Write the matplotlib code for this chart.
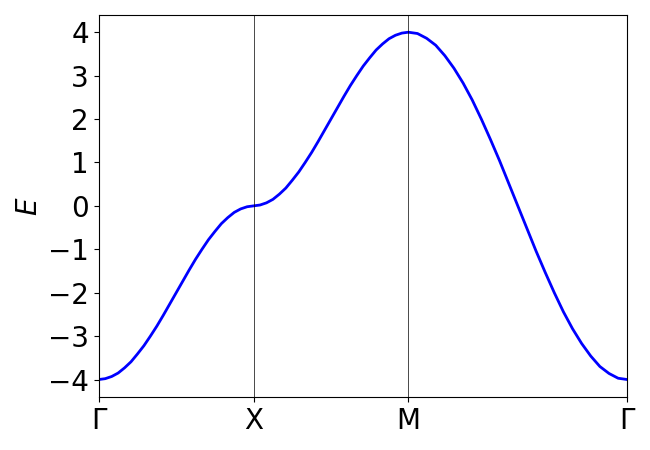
import numpy as np
import matplotlib
matplotlib.use("Agg")
import matplotlib.pyplot as plt

# High-symmetry path labels and relative segment lengths (Γ-X, X-M, M-Γ)
labels = ["Γ", "X", "M", "Γ"]
seg_lengths = [1.0, 1.0, 1.4142]
yticks = [-4, -3, -2, -1, 0, 1, 2, 3, 4]

# Energy values read along each segment (equally spaced samples)
E_GX = [-4.00, -3.98, -3.93, -3.85, -3.73, -3.59, -3.41, -3.22, -3.00, -2.77, -2.52, -2.26,
        -2.00, -1.74, -1.48, -1.23, -1.00, -0.78, -0.59, -0.41, -0.27, -0.15, -0.07, -0.02, 0.00]
E_XM = [0.00, 0.02, 0.07, 0.15, 0.27, 0.41, 0.59, 0.78, 1.00, 1.23, 1.48, 1.74,
        2.00, 2.26, 2.52, 2.77, 3.00, 3.22, 3.41, 3.59, 3.73, 3.85, 3.93, 3.98, 4.00]
E_MG = [4.00, 3.97, 3.86, 3.70, 3.46, 3.17, 2.83, 2.44, 2.00, 1.53, 1.04, 0.52,
        0.00, -0.52, -1.04, -1.53, -2.00, -2.44, -2.83, -3.17, -3.46, -3.70, -3.86, -3.97, -4.00]
segments = [E_GX, E_XM, E_MG]

plt.rcParams["font.family"] = ["DejaVu Sans"]
fig = plt.figure(figsize=(6.5, 4.5), dpi=100)
ax = fig.add_axes([0.152, 0.118, 0.813, 0.849])

ticks = np.concatenate([[0.0], np.cumsum(seg_lengths)])
xs_all, es_all = [], []
for i, E in enumerate(segments):
    xs = np.linspace(ticks[i], ticks[i + 1], len(E))
    if i > 0:
        xs = xs[1:]
        E = E[1:]
    xs_all.extend(xs)
    es_all.extend(E)

ax.plot(xs_all, es_all, color="blue", lw=2, solid_joinstyle="round")
for t in ticks[1:-1]:
    ax.axvline(t, color="black", lw=0.5)

ax.set_xlim(ticks[0], ticks[-1])
ax.set_ylim(-4.4, 4.4)
ax.set_xticks(ticks)
ax.set_xticklabels(labels)
ax.set_yticks(yticks)
ax.set_ylabel("$E$", fontsize=20)
ax.tick_params(labelsize=20)
fig.savefig("out.png", dpi=100)
